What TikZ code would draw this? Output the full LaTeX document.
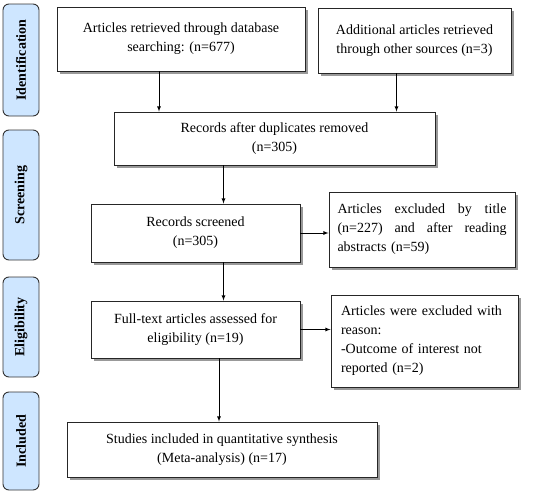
\documentclass[tikz,border=0pt]{standalone}
\usepackage{fontspec}
\setmainfont{Liberation Serif}
\usepackage{tikz}
\usetikzlibrary{shapes,arrows,calc,positioning,shadows}
\definecolor{stageblue}{RGB}{206,230,255}

\begin{document}
\begin{tikzpicture}[x=1pt, y=-1pt, >=latex, thick]
   \useasboundingbox (0,0) rectangle (536,493);
   \tikzset{
     box/.style={rectangle, draw=black!85, fill=white, line width=0.9pt, align=center,
       font=\fontsize{14}{19}\selectfont, inner sep=4pt,
       drop shadow={shadow xshift=3pt, shadow yshift=-3pt, fill=black!50, opacity=0.8}},
     stage/.style={rectangle, rounded corners=6pt, draw=black!80, fill=stageblue, line width=0.9pt,
       rotate=90, font=\fontsize{14}{16}\selectfont\bfseries, minimum height=36pt, inner sep=2pt}
   }
   % stage labels on the left
   \node (ident) [stage, minimum width=112pt] at (21,60) {Identification};
   \node (screen) [stage, minimum width=130pt] at (21,195) {Screening};
   \node (elig) [stage, minimum width=100pt] at (21,327) {Eligibility};
   \node (incl) [stage, minimum width=98pt] at (21,441) {Included};

   % flow boxes
   \node (db) [box, minimum width=248pt, minimum height=64pt] at (181,39)
     {Articles retrieved through database\\searching: (n=677)};
   \node (other) [box, minimum width=193pt, minimum height=65pt] at (414.5,40.5)
     {Additional articles retrieved\\through other sources (n=3)};
   \node (dup) [box, minimum width=321pt, minimum height=53pt] at (274.5,138.5)
     {Records after duplicates removed\\(n=305)};
   \node (scr) [box, minimum width=209pt, minimum height=58pt] at (195.5,233)
     {Records screened\\(n=305)};
   \node (excl1) [box, minimum height=75pt, text width=169pt, inner xsep=8.5pt, align=left] at (422,229.5)
     {Articles\hfill excluded\hfill by\hfill title\\(n=227)\hfill and\hfill after\hfill reading\\abstracts (n=59)};
   \node (full) [box, minimum width=209pt, minimum height=57pt] at (195.5,329.5)
     {Full-text articles assessed for\\eligibility (n=19)};
   \node (excl2) [box, minimum height=92pt, text width=167pt, inner xsep=10pt, align=left] at (424.5,341)
     {Articles were excluded with\\reason:\\-Outcome of interest not\\reported (n=2)};
   \node (final) [box, minimum width=310pt, minimum height=55pt] at (222,449.5)
     {Studies included in quantitative synthesis\\(Meta-analysis) (n=17)};

   % arrows
   \draw[->] ([xshift=-22pt]db.south) -- ([xshift=-22pt]db.south |- dup.north);
   \draw[->] ([xshift=-18pt]other.south) -- ([xshift=-18pt]other.south |- dup.north);
   \draw[->] ([xshift=28pt]scr.north |- dup.south) -- ([xshift=28pt]scr.north);
   \draw[->] (scr.east) -- (scr.east -| excl1.west);
   \draw[->] ([xshift=28pt]scr.south) -- ([xshift=28pt]full.north);
   \draw[->] (full.east) -- (full.east -| excl2.west);
   \draw[->] ([xshift=-3pt]final.north |- full.south) -- ([xshift=-3pt]final.north);
\end{tikzpicture}
\end{document}
